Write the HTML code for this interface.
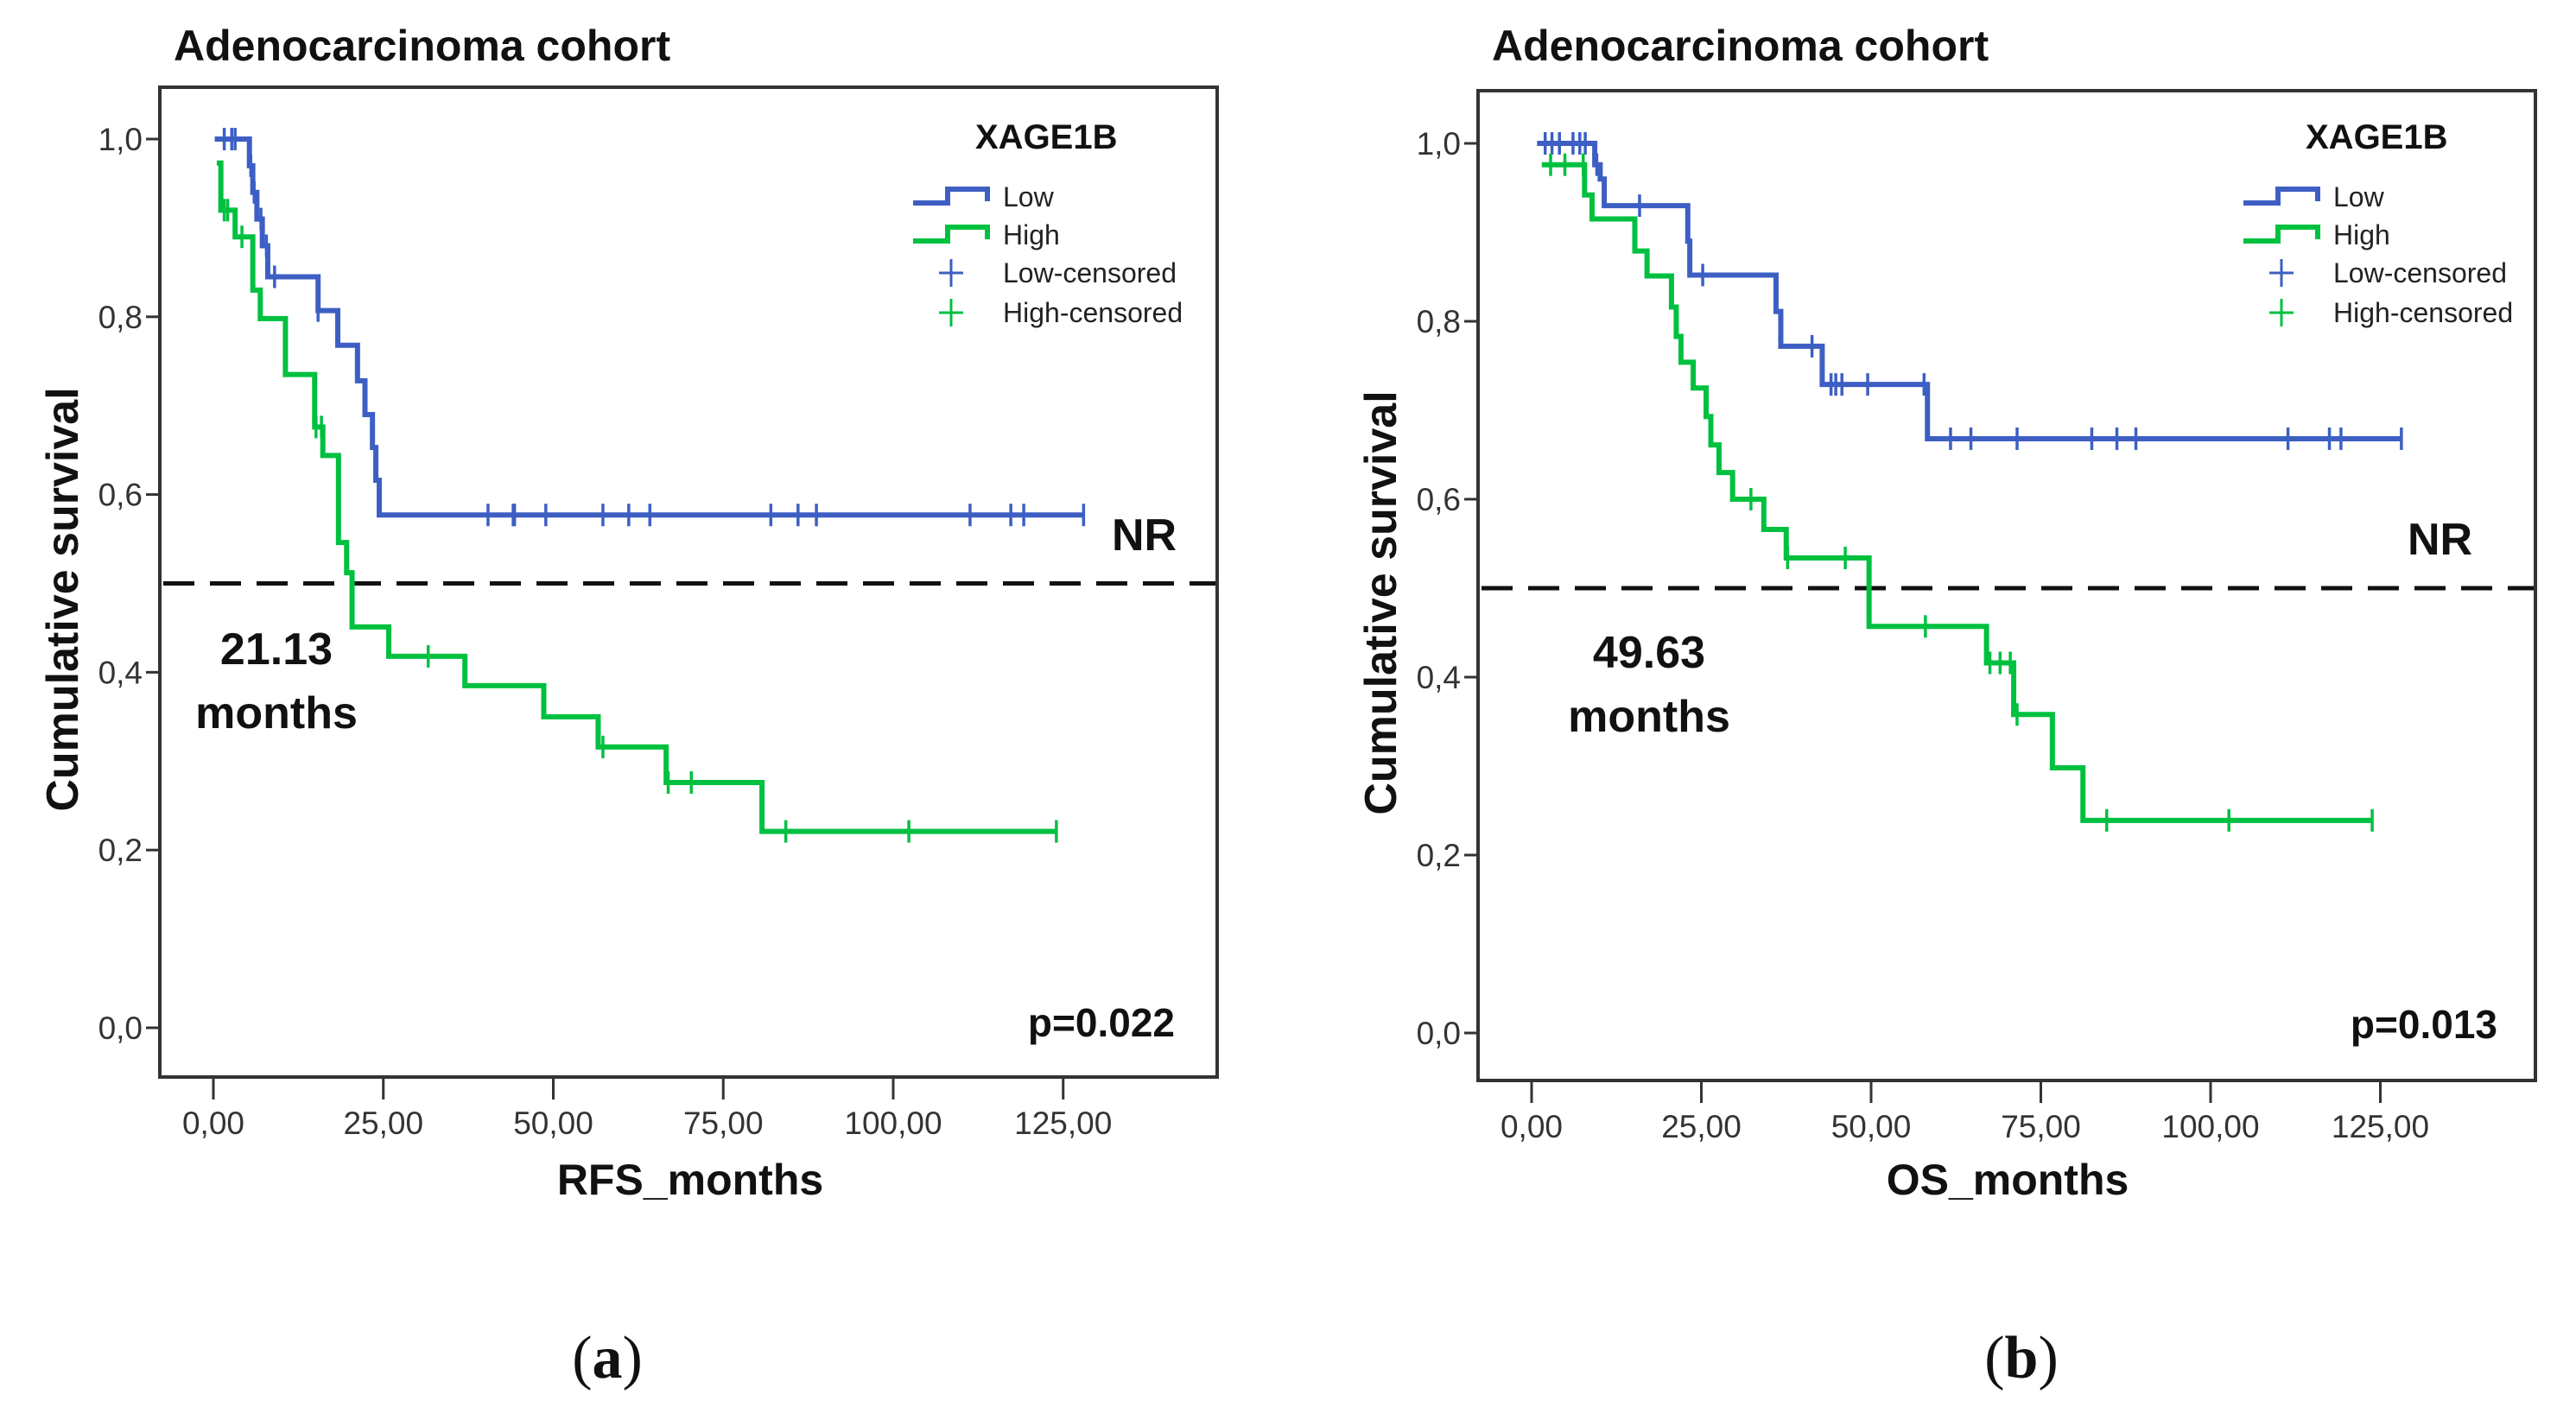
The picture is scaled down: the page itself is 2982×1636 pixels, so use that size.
<!DOCTYPE html>
<html><head><meta charset="utf-8"><title>XAGE1B Kaplan-Meier curves</title>
<style>
html,body{margin:0;padding:0;background:#fff;}
svg{display:block;}
.t{font-family:"Liberation Sans",Arial,sans-serif;}
.n{font-family:"Liberation Sans Narrow","Liberation Sans",Arial,sans-serif;}
</style></head>
<body>
<svg id="chart" xmlns="http://www.w3.org/2000/svg" width="2982" height="1636" viewBox="0 0 2982 1636">
<rect x="0" y="0" width="2982" height="1636" fill="#fff"/>
</svg>
<script>
// ---- Panel (a) RFS data ----
const aLowTimes = [0.2, 5.3, 5.8, 6.4, 7.2, 8.0, 15.4, 18.3, 21.2, 22.3, 23.4, 23.9, 24.4];
const aLowSurv  = [1.0, 0.97, 0.94, 0.91, 0.88, 0.845, 0.807, 0.768, 0.728, 0.69, 0.653, 0.616, 0.577];
const aLowCens  = [1.6, 2.7, 3.2, 5.5, 6.0, 7.0, 7.8, 9.0, 15.4, 40.4, 44.1, 44.3, 48.9, 57.3, 61.1, 64.2, 82.0, 86.0, 88.7, 111.3, 117.3, 119.2, 128.0];
const aHighTimes = [0.5, 1.1, 3.2, 5.8, 6.9, 10.6, 14.9, 16.1, 18.4, 19.6, 20.4, 25.8, 37.0, 48.6, 56.6, 66.6, 80.7];
const aHighSurv  = [0.973, 0.92, 0.89, 0.83, 0.798, 0.735, 0.676, 0.644, 0.546, 0.512, 0.451, 0.418, 0.385, 0.35, 0.316, 0.276, 0.221];
const aHighCens  = [1.6, 2.1, 4.2, 15.1, 15.9, 31.6, 57.3, 66.9, 70.3, 84.2, 102.3, 124.0];
// ---- Panel (b) OS data ----
const bLowTimes = [0.8, 9.3, 10.1, 10.7, 23.0, 23.3, 36.0, 36.7, 42.8, 58.3];
const bLowSurv  = [1.0, 0.976, 0.96, 0.93, 0.89, 0.852, 0.811, 0.772, 0.729, 0.668];
const bLowCens  = [2.0, 3.0, 4.1, 6.1, 7.1, 7.9, 9.6, 15.9, 25.2, 41.3, 44.1, 44.8, 45.7, 49.5, 57.8, 61.7, 64.7, 71.5, 82.5, 86.2, 89.0, 111.4, 117.5, 119.2, 128.1];
const bHighTimes = [1.5, 7.8, 8.9, 15.2, 17.0, 20.6, 21.3, 22.0, 23.8, 25.7, 26.4, 27.6, 29.6, 34.2, 37.5, 49.7, 67.0, 71.0, 76.7, 81.2];
const bHighSurv  = [0.976, 0.942, 0.915, 0.879, 0.851, 0.816, 0.783, 0.754, 0.725, 0.693, 0.661, 0.63, 0.6, 0.566, 0.534, 0.457, 0.416, 0.358, 0.298, 0.239];
const bHighCens  = [2.8, 4.9, 7.6, 32.3, 37.7, 46.2, 58.0, 67.5, 69.0, 70.5, 71.5, 84.7, 102.7, 123.8];
// ---- shared axis tick values ----
const xTickVals = [0, 25, 50, 75, 100, 125];
const xTickLabels = ["0,00", "25,00", "50,00", "75,00", "100,00", "125,00"];
const yTickVals = [0, 0.2, 0.4, 0.6, 0.8, 1.0];
const yTickLabels = ["0,0", "0,2", "0,4", "0,6", "0,8", "1,0"];

const NS = "http://www.w3.org/2000/svg";
const svg = document.getElementById("chart");
const BLUE = "#3d5fc4", GREEN = "#00c040";

function mk(tag, attrs, parent) {
  const el = document.createElementNS(NS, tag);
  for (const k in attrs) el.setAttribute(k, attrs[k]);
  (parent || svg).appendChild(el);
  return el;
}
function txt(s, attrs, parent) { const el = mk("text", attrs, parent); el.textContent = s; return el; }

function survValueAt(times, surv, t) {
  let s = surv[0];
  for (let i = 0; i < times.length; i++) if (times[i] <= t) s = surv[i];
  return s;
}

function panel(cfg) {
  const g = mk("g", {});
  
  
  const xs = m => cfg.x0 + m * cfg.pxm;
  const ys = s => cfg.y0 - s * cfg.pxs;

  const t = txt("Adenocarcinoma cohort", {x: cfg.bl + 16, y: 70, "font-size": 50, "font-weight": "bold", class: "n", fill: "#111"}, g);
  
  

  const box = mk("rect", {x: cfg.bl, y: cfg.bt, width: cfg.br - cfg.bl, height: cfg.bb - cfg.bt, fill: "none", stroke: "#333", "stroke-width": 4}, g);
  
  

  yTickVals.forEach((v, i) => {
    const tk = mk("line", {x1: cfg.bl - 16, x2: cfg.bl, y1: ys(v), y2: ys(v), stroke: "#333", "stroke-width": 3}, g);
    
    
    const lb = txt(yTickLabels[i], {x: cfg.bl - 20, y: ys(v) + 13, "text-anchor": "end", "font-size": 37, class: "n", fill: "#333"}, g);
    
    
  });
  const yt = txt("Cumulative survival", {x: 0, y: 0, "text-anchor": "middle", "font-size": 52, "font-weight": "bold", class: "t", fill: "#111", transform: `translate(${cfg.bl - 95},${(cfg.bt + cfg.bb) / 2 + 20}) rotate(-90)`}, g);
  
  

  xTickVals.forEach((v, i) => {
    const tk = mk("line", {x1: xs(v), x2: xs(v), y1: cfg.bb, y2: cfg.bb + 26, stroke: "#333", "stroke-width": 3}, g);
    
    
    const lb = txt(xTickLabels[i], {x: xs(v), y: cfg.bb + 66, "text-anchor": "middle", "font-size": 37, class: "n", fill: "#333"}, g);
    
    
  });
  const xt = txt(cfg.xlabel, {x: cfg.xlabX, y: 1383, "text-anchor": "middle", "font-size": 50, "font-weight": "bold", class: "n", fill: "#111"}, g);
  
  

  const dl = mk("line", {x1: cfg.bl + 4, x2: cfg.br - 2, y1: ys(0.5), y2: ys(0.5), stroke: "#111", "stroke-width": 5, "stroke-dasharray": "36 18"}, g);
  
  

  function curve(times, surv, cens, color, name) {
    const end = Math.max(times[times.length - 1], cens[cens.length - 1]);
    let d = `M${xs(times[0])},${ys(surv[0])}`;
    for (let i = 1; i < times.length; i++) d += ` H${xs(times[i])} V${ys(surv[i])}`;
    d += ` H${xs(end)}`;
    const p = mk("path", {d: d, fill: "none", stroke: color, "stroke-width": 6}, g);
    
    
    cens.forEach(c => {
      const s = survValueAt(times, surv, c);
      const m = mk("line", {x1: xs(c), x2: xs(c), y1: ys(s) - 13, y2: ys(s) + 13, stroke: color, "stroke-width": 3.5}, g);
      
      
    });
  }
  curve(cfg.lowT, cfg.lowS, cfg.lowC, BLUE, "low");
  curve(cfg.highT, cfg.highS, cfg.highC, GREEN, "high");

  const lg = mk("g", {}, g);
  
  
  const lx = cfg.legX;
  txt("XAGE1B", {x: lx + 72, y: 172, "font-size": 40, "font-weight": "bold", class: "n", fill: "#111"}, lg);
  [[BLUE, "Low", 227], [GREEN, "High", 271]].forEach(([c, l, y]) => {
    const e = mk("path", {d: `M${lx},${y + 8} H${lx + 40} V${y - 8} H${lx + 86} V${y + 6}`, fill: "none", stroke: c, "stroke-width": 6}, lg);
    
    
    txt(l, {x: lx + 104, y: y + 12, "font-size": 32, class: "n", fill: "#222"}, lg);
  });
  [[BLUE, "Low-censored", 316], [GREEN, "High-censored", 362]].forEach(([c, l, y]) => {
    const e = mk("path", {d: `M${lx + 30},${y} H${lx + 58} M${lx + 44},${y - 16} V${y + 16}`, fill: "none", stroke: c, "stroke-width": 3}, lg);
    
    
    txt(l, {x: lx + 104, y: y + 11, "font-size": 32, class: "n", fill: "#222"}, lg);
  });

  const nr = txt("NR", {x: cfg.nrX, y: cfg.nrY, "font-size": 52, "font-weight": "bold", class: "t", fill: "#111"}, g);
  
  
  const m1 = txt(cfg.median, {x: cfg.medX, y: cfg.medY, "text-anchor": "middle", "font-size": 52, "font-weight": "bold", class: "t", fill: "#111"}, g);
  
  
  const m2 = txt("months", {x: cfg.medX, y: cfg.medY + 74, "text-anchor": "middle", "font-size": 52, "font-weight": "bold", class: "t", fill: "#111"}, g);
  
  
  const pv = txt(cfg.p, {x: cfg.pX, y: cfg.pY, "text-anchor": "end", "font-size": 46, "font-weight": "bold", class: "n", fill: "#111"}, g);
  
  
  const pl = mk("text", {x: cfg.plX, y: 1595, "text-anchor": "middle", "font-size": 70, fill: "#111", "font-family": "Liberation Serif, serif"}, g);
  
  
  const s1 = mk("tspan", {}, pl); s1.textContent = "(";
  const s2 = mk("tspan", {"font-weight": "bold"}, pl); s2.textContent = cfg.panelLetter;
  const s3 = mk("tspan", {}, pl); s3.textContent = ")";
}

panel({id: "rfs", x0: 247, pxm: 7.87, y0: 1190, pxs: 1029, bl: 185, br: 1409, bt: 101, bb: 1247,
  xlabel: "RFS_months", xlabX: 799, legX: 1057, nrX: 1287, nrY: 637, median: "21.13", medX: 320, medY: 769,
  p: "p=0.022", pX: 1360, pY: 1200, panelLetter: "a", plX: 703,
  lowT: aLowTimes, lowS: aLowSurv, lowC: aLowCens, highT: aHighTimes, highS: aHighSurv, highC: aHighCens});
panel({id: "os", x0: 1773, pxm: 7.86, y0: 1196, pxs: 1030, bl: 1711, br: 2935, bt: 105, bb: 1251,
  xlabel: "OS_months", xlabX: 2324, legX: 2597, nrX: 2787, nrY: 642, median: "49.63", medX: 1909, medY: 773,
  p: "p=0.013", pX: 2891, pY: 1202, panelLetter: "b", plX: 2340,
  lowT: bLowTimes, lowS: bLowSurv, lowC: bLowCens, highT: bHighTimes, highS: bHighSurv, highC: bHighCens});
</script>
</body></html>
